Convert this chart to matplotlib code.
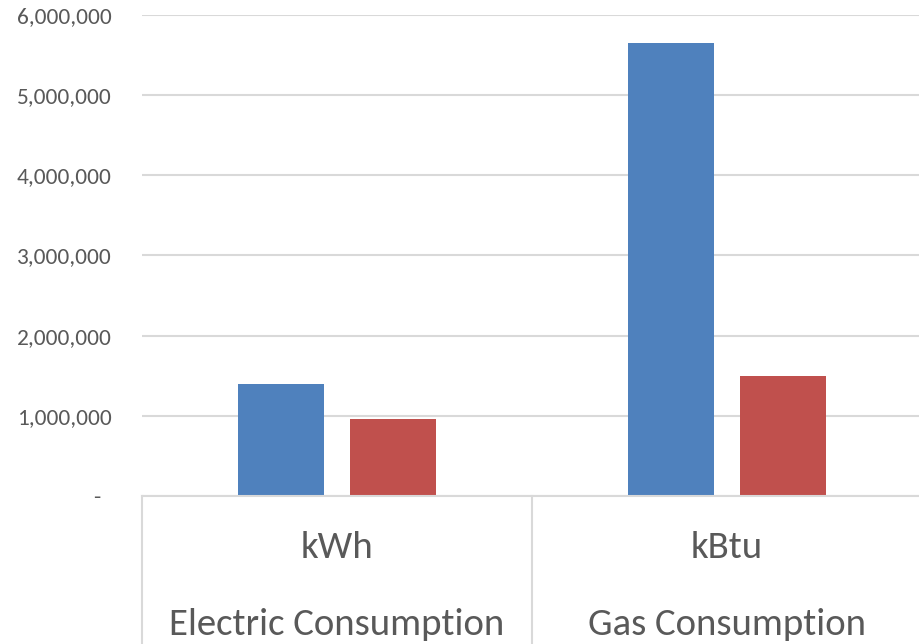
import matplotlib
matplotlib.use("Agg")
import matplotlib.pyplot as plt
from matplotlib import font_manager
from matplotlib.ticker import FuncFormatter

units = ["kWh", "kBtu"]
groups = ["Electric Consumption", "Gas Consumption"]
series_a = [1400000, 5650000]
series_b = [965000, 1500000]
yticks = [0, 1000000, 2000000, 3000000, 4000000, 5000000, 6000000]

BLUE = "#4F81BD"
RED = "#C0504D"
GRID = "#D9D9D9"
TEXT = "#595959"

installed = {f.name for f in font_manager.fontManager.ttflist}
family = next((f for f in ["Carlito", "Liberation Sans Narrow", "Open Sans"] if f in installed), "DejaVu Sans")
plt.rcParams["font.family"] = [family, "DejaVu Sans"]

fig = plt.figure(figsize=(9.2, 6.44), dpi=100)
ax = fig.add_axes([142 / 920, 1 - 496 / 644, 780 / 920, 481 / 644])

x = [0, 1]
w = 0.223
off = 0.1436
ax.bar([i - off for i in x], series_a, width=w, color=BLUE, zorder=3)
ax.bar([i + off for i in x], series_b, width=w, color=RED, zorder=3)

ax.set_xlim(-0.5, 1.5)
ax.set_ylim(0, 6000000)
ax.set_yticks(yticks)
ax.yaxis.set_major_formatter(FuncFormatter(lambda v, p: "-  " if v == 0 else f"{v:,.0f}"))
ax.tick_params(axis="y", length=0, pad=22, labelsize=16.8, labelcolor=TEXT)
ax.set_xticks([])
ax.grid(axis="y", color=GRID, linewidth=1.5, zorder=0)
for s in ["left", "right", "top"]:
    ax.spines[s].set_visible(False)
ax.spines["bottom"].set_color(GRID)
ax.spines["bottom"].set_linewidth(1.5)
ax.spines["bottom"].set_zorder(4)

# category box below the axis
tr = ax.get_xaxis_transform()
for xv in [-0.5, 0.5, 1.5]:
    ax.plot([xv, xv], [0, -0.35], transform=tr, color=GRID, linewidth=1.5, clip_on=False)
for i in x:
    ax.text(i, -0.129, units[i], transform=tr, ha="center", va="baseline", fontsize=28, color=TEXT)
    ax.text(i, -0.289, groups[i], transform=tr, ha="center", va="baseline", fontsize=28, color=TEXT)

fig.savefig("out.png", dpi=100)
